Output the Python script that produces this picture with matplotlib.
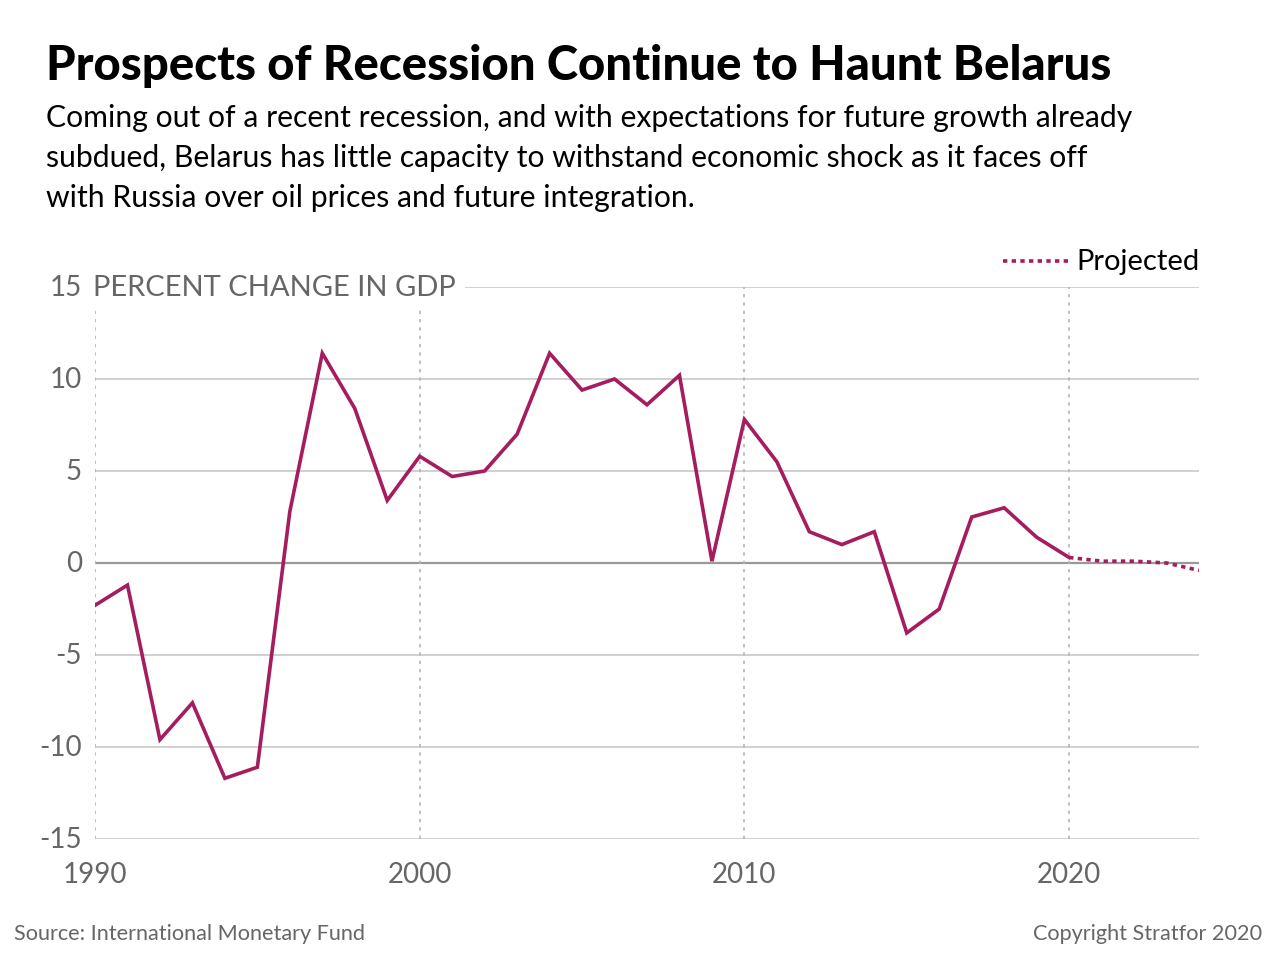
import matplotlib.pyplot as plt

plt.rcParams['font.family'] = ['Lato', 'DejaVu Sans']

# GDP growth, percent change
years = [1990, 1991, 1992, 1993, 1994, 1995, 1996, 1997, 1998, 1999,
         2000, 2001, 2002, 2003, 2004, 2005, 2006, 2007, 2008, 2009,
         2010, 2011, 2012, 2013, 2014, 2015, 2016, 2017, 2018, 2019, 2020]
gdp = [-2.3, -1.2, -9.6, -7.6, -11.7, -11.1, 2.8, 11.4, 8.4, 3.4,
       5.8, 4.7, 5.0, 7.0, 11.4, 9.4, 10.0, 8.6, 10.2, 0.1,
       7.8, 5.5, 1.7, 1.0, 1.7, -3.8, -2.5, 2.5, 3.0, 1.4, 0.3]
proj_years = [2020, 2021, 2022, 2023, 2024]
proj_gdp = [0.3, 0.1, 0.1, 0.0, -0.4]

y_ticks = [15, 10, 5, 0, -5, -10, -15]
x_ticks = [1990, 2000, 2010, 2020]

subtitle = ['Coming out of a recent recession, and with expectations for future growth already',
            'subdued, Belarus has little capacity to withstand economic shock as it faces off',
            'with Russia over oil prices and future integration.']

line_color = '#a51c5f'
grid_color = '#c8c8c8'
text_gray = '#666666'

fig = plt.figure(figsize=(12.8, 9.78), dpi=100)
ax = fig.add_axes([95 / 1280, 1 - 840 / 978, 1104 / 1280, 552 / 978])
ax.set_xlim(1990, 2024)
ax.set_ylim(-15, 15)

for v in y_ticks:
    if v == 0:
        ax.axhline(v, color='#999999', lw=1.6, zorder=1)
    else:
        ax.axhline(v, color=grid_color, lw=1.2, zorder=1)
for x in x_ticks:
    ax.axvline(x, color='#b5b5b5', lw=1.2, ls=(0, (2, 3)), zorder=1)

ax.plot(years, gdp, color=line_color, lw=2.6, solid_joinstyle='miter', zorder=3)
ax.plot(proj_years, proj_gdp, color=line_color, lw=2.6, ls=(0, (1.2, 1.2)), zorder=3)

for s in ax.spines.values():
    s.set_visible(False)
ax.set_xticks([])
ax.set_yticks([])

for v in y_ticks:
    ax.text(1990 - 0.4, v, str(v), ha='right', va='center', fontsize=20, color=text_gray)
ax.text(1990 - 0.06, 15, 'PERCENT CHANGE IN GDP', ha='left', va='center', fontsize=21,
        color=text_gray, zorder=5,
        bbox=dict(facecolor='white', edgecolor='none', pad=7))
for x in x_ticks:
    ax.text(x, -16.9, str(x), ha='center', va='center', fontsize=20, color=text_gray)

# legend
fig.add_artist(plt.Line2D([1003 / 1280, 1068 / 1280], [1 - 262 / 978, 1 - 262 / 978],
                          color=line_color, lw=2.6, ls=(0, (1.2, 1.2))))
fig.text(1200 / 1280, 1 - 262 / 978, 'Projected', ha='right', va='center',
         fontsize=21, color='black')

fig.text(46 / 1280, 1 - 66 / 978, 'Prospects of Recession Continue to Haunt Belarus',
         ha='left', va='center', fontsize=34, fontweight='black', color='black')
for i, line in enumerate(subtitle):
    fig.text(46 / 1280, 1 - (118 + 40 * i) / 978, line,
             ha='left', va='center', fontsize=21.7, color='black')
fig.text(14 / 1280, 1 - 934 / 978, 'Source: International Monetary Fund',
         ha='left', va='center', fontsize=15.6, color=text_gray)
fig.text(1262 / 1280, 1 - 934 / 978, 'Copyright Stratfor 2020',
         ha='right', va='center', fontsize=15.6, color=text_gray)

fig.savefig('out.png', dpi=100, facecolor='white')
